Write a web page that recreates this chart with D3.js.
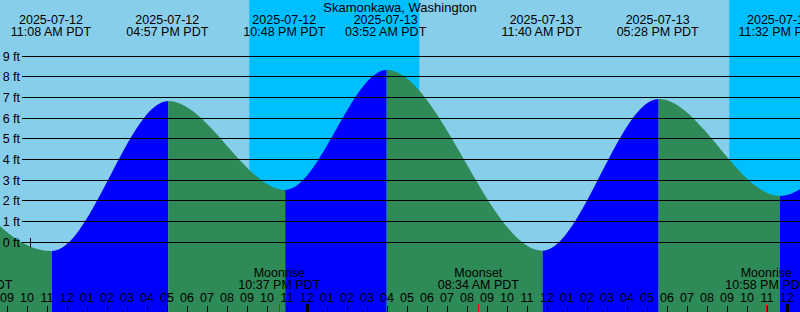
<!DOCTYPE html>
<html>
<head>
<meta charset="utf-8">
<script src="https://cdn.jsdelivr.net/npm/d3@7"></script>
<style>
  body { margin: 0; background: #fff; }
  svg { display: block; font-family: "Liberation Sans", Arial, sans-serif; font-size: 12.5px; }
</style>
</head>
<body>
<div id="tide_chart"></div>
<script>
// tide extremes (first and last are just off screen)
var tideTimes = ["2025-07-12 03:02", "2025-07-12 11:08", "2025-07-12 16:57", "2025-07-12 22:48",
                 "2025-07-13 03:52", "2025-07-13 11:40", "2025-07-13 17:28", "2025-07-13 23:32",
                 "2025-07-14 04:40"];
var tideHeights = [8.3, -0.44, 6.82, 2.52, 8.32, -0.42, 6.92, 2.23, 8.2];

// moon events
var moonTimes = ["2025-07-12 07:14", "2025-07-12 22:37", "2025-07-13 08:34", "2025-07-13 22:58"];
var moonEvents = ["Moonset", "Moonrise", "Moonset", "Moonrise"];

// night (sunset -> sunrise)
var sunsetTimes = ["2025-07-12 21:00", "2025-07-13 21:00"];
var sunriseTimes = ["2025-07-13 05:30", "2025-07-14 05:30"];

var feetTicks = [0, 1, 2, 3, 4, 5, 6, 7, 8, 9];
var title = "Skamonkawa, Washington";

var parseT = d3.timeParse("%Y-%m-%d %H:%M");
var fmtDate = d3.timeFormat("%Y-%m-%d");
var fmtTime = d3.timeFormat("%I:%M %p PDT");
var fmtHour = d3.timeFormat("%I");

var tides = tideTimes.map(function(t, i) { return {t: parseT(t), h: tideHeights[i]}; });

// set the dimensions of the graph
var width = 800, height = 312;
var tickShift = -2.3, labelShift = -1;

var svg = d3.select("#tide_chart")
  .append("svg")
    .attr("width", width)
    .attr("height", height);

var x = d3.scaleTime()
  .domain([parseT("2025-07-12 09:00"), parseT("2025-07-14 00:00")])
  .range([9.3, 9.3 + 39 * 20]);

var y = d3.scaleLinear()
  .domain([0, 9])
  .range([242, 56]);

// sky
svg.append("rect")
  .attr("width", width).attr("height", height)
  .attr("fill", "#87ceeb");

svg.selectAll("rect.night")
  .data(sunsetTimes)
  .enter()
  .append("rect")
    .attr("class", "night")
    .attr("x", function(d) { return x(parseT(d)); })
    .attr("y", 0)
    .attr("width", function(d, i) { return x(parseT(sunriseTimes[i])) - x(parseT(d)); })
    .attr("height", height)
    .attr("fill", "#00bfff");

// tide area used as a clip
var area = d3.area()
  .x(function(d) { return x(d.t); })
  .y0(height)
  .y1(function(d) { return y(d.h); })
  .curve(d3.curveMonotoneX);

svg.append("clipPath")
  .attr("id", "tideClip")
  .append("path")
    .attr("d", area(tides));

var segs = d3.pairs(tides);
svg.append("g")
  .attr("clip-path", "url(#tideClip)")
  .selectAll("rect")
  .data(segs)
  .enter()
  .append("rect")
    .attr("x", function(d) { return x(d[0].t); })
    .attr("y", 0)
    .attr("width", function(d) { return x(d[1].t) - x(d[0].t); })
    .attr("height", height)
    .attr("fill", function(d) { return d[1].h > d[0].h ? "#0000ff" : "#2e8b57"; });

// grid lines + feet labels
svg.selectAll("line.grid")
  .data(feetTicks)
  .enter()
  .append("line")
    .attr("class", "grid")
    .attr("x1", 22).attr("x2", width)
    .attr("y1", function(d) { return y(d); })
    .attr("y2", function(d) { return y(d); })
    .attr("stroke", "#000")
    .attr("shape-rendering", "crispEdges");

svg.selectAll("text.ft")
  .data(feetTicks)
  .enter()
  .append("text")
    .attr("class", "ft")
    .attr("x", 20)
    .attr("y", function(d) { return y(d); })
    .attr("dy", "0.36em")
    .attr("text-anchor", "end")
    .text(function(d) { return d + " ft"; });

// little cross at the zero line
svg.append("path")
  .attr("d", "M26,242H35M30.5,237.5V246.5")
  .attr("stroke", "#000")
  .attr("shape-rendering", "crispEdges");

// title
svg.append("text")
  .attr("x", width / 2).attr("y", 11.5)
  .attr("text-anchor", "middle")
  .style("font-size", "13px")
  .text(title);

// high / low labels
var vis = tides.slice(1, tides.length - 1);
var tl = svg.selectAll("g.tlab")
  .data(vis)
  .enter()
  .append("g")
    .attr("class", "tlab")
    .attr("transform", function(d) { return "translate(" + (x(d.t) + labelShift) + ",0)"; });
tl.append("text").attr("y", 24).attr("text-anchor", "middle").text(function(d) { return fmtDate(d.t); });
tl.append("text").attr("y", 36).attr("text-anchor", "middle").text(function(d) { return fmtTime(d.t); });

// hour ticks and labels
var hours = d3.timeHour.range(parseT("2025-07-12 08:00"), parseT("2025-07-14 02:00"));
svg.selectAll("line.hr")
  .data(hours)
  .enter()
  .append("line")
    .attr("class", "hr")
    .attr("x1", function(d) { return Math.round(x(d) + tickShift) + 0.5; })
    .attr("x2", function(d) { return Math.round(x(d) + tickShift) + 0.5; })
    .attr("y1", function(d) { return d.getHours() == 0 ? 304 : 306; })
    .attr("y2", height)
    .attr("stroke", "#000")
    .attr("stroke-width", function(d) { return d.getHours() == 0 ? 3 : 1; });

svg.selectAll("text.hr")
  .data(hours)
  .enter()
  .append("text")
    .attr("class", "hr")
    .attr("x", function(d) { return x(d) + tickShift; })
    .attr("y", 301.5)
    .attr("text-anchor", "middle")
    .text(function(d) { return fmtHour(d); });

// moon events
var moon = moonTimes.map(function(t, i) { return {t: parseT(t), name: moonEvents[i]}; });
svg.selectAll("line.moon")
  .data(moon)
  .enter()
  .append("line")
    .attr("class", "moon")
    .attr("x1", function(d) { return Math.round(x(d.t) + tickShift) + 0.5; })
    .attr("x2", function(d) { return Math.round(x(d.t) + tickShift) + 0.5; })
    .attr("y1", 304).attr("y2", height)
    .attr("stroke", "#ff0000");

var ml = svg.selectAll("g.mlab")
  .data(moon)
  .enter()
  .append("g")
    .attr("class", "mlab")
    .attr("transform", function(d) { return "translate(" + (x(d.t) + tickShift) + ",0)"; });
ml.append("text").attr("y", 277).attr("text-anchor", "middle").text(function(d) { return d.name; });
ml.append("text").attr("y", 289).attr("text-anchor", "middle").text(function(d) { return fmtTime(d.t); });
</script>
</body>
</html>
